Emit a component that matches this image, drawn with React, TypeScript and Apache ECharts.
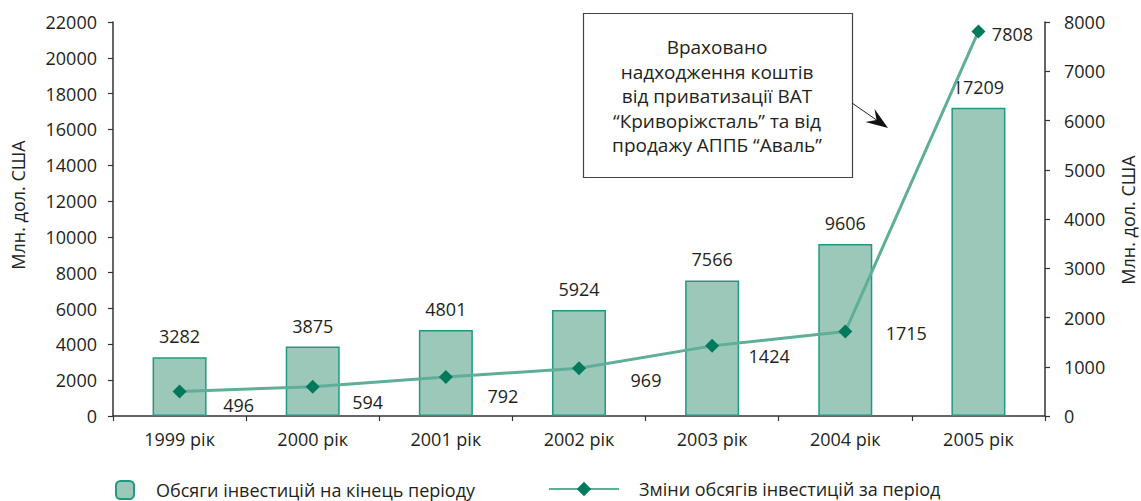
import React, { useEffect, useRef } from "react";
import * as echarts from "echarts";

const categories = ["1999 рік", "2000 рік", "2001 рік", "2002 рік", "2003 рік", "2004 рік", "2005 рік"];
const volumeEndOfPeriod = [3282, 3875, 4801, 5924, 7566, 9606, 17209];
const changeForPeriod = [496, 594, 792, 969, 1424, 1715, 7808];
const leftTicks = { min: 0, max: 22000, interval: 2000 };
const rightTicks = { min: 0, max: 8000, interval: 1000 };
const barName = "Обсяги інвестицій на кінець періоду";
const lineName = "Зміни обсягів інвестицій за період";
const axisName = "Млн. дол. США";
const noteLines = [
  "Враховано",
  "надходження коштів",
  "від приватизації ВАТ",
  "“Криворіжсталь” та від",
  "продажу АППБ “Аваль”",
];

const FONT = "'Open Sans', 'Noto Sans', sans-serif";
const TXT = "#231f20";
const lineLabelOffsets = [[59, 13], [55, 15], [57, 19], [67, 12], [57, 10], [61, 1], [34, 3]];

export default function App() {
  const ref = useRef<HTMLDivElement>(null);
  useEffect(() => {
    if (!ref.current) return;
    const chart = echarts.init(ref.current, null, { renderer: "svg" });
    const axisLine = { show: true, lineStyle: { color: "#333", width: 1.5 } };
    const tick = { show: true, length: 5, lineStyle: { color: "#333", width: 1.2 } };
    const plain = (v: number) => String(v);
    const tip = [888, 128];
    const dir = [0.82, 0.57];
    const perp = [-0.57, 0.82];
    const back = [tip[0] - dir[0] * 22, tip[1] - dir[1] * 22];
    const notch = [tip[0] - dir[0] * 14, tip[1] - dir[1] * 14];
    const w1 = [back[0] + perp[0] * 8, back[1] + perp[1] * 8];
    const w2 = [back[0] - perp[0] * 8, back[1] - perp[1] * 8];
    chart.setOption({
      animation: false,
      textStyle: { fontFamily: FONT },
      grid: { left: 113, right: 96, top: 22, bottom: 85, containLabel: false },
      legend: [
        {
          data: [barName],
          left: 115,
          top: 480,
          padding: 0,
          itemWidth: 18,
          itemHeight: 18,
          textStyle: { fontSize: 18, color: TXT, fontFamily: FONT, padding: [0, 0, 0, 17] },
        },
        {
          data: [lineName],
          left: 548,
          top: 480,
          padding: 0,
          itemWidth: 70,
          itemHeight: 18,
          textStyle: { fontSize: 18, color: TXT, fontFamily: FONT, padding: [0, 0, 0, 15] },
        },
      ],
      xAxis: {
        type: "category",
        data: categories,
        boundaryGap: true,
        axisLine,
        axisTick: tick,
        axisLabel: { fontSize: 18, color: TXT, margin: 14, fontFamily: FONT },
      },
      yAxis: [
        {
          type: "value",
          ...leftTicks,
          axisLine,
          axisTick: tick,
          axisLabel: { fontSize: 18, color: TXT, margin: 16, fontFamily: FONT, formatter: plain },
          splitLine: { show: false },
        },
        {
          type: "value",
          position: "right",
          ...rightTicks,
          axisLine,
          axisTick: tick,
          axisLabel: { fontSize: 18, color: TXT, margin: 19, fontFamily: FONT, formatter: plain },
          splitLine: { show: false },
        },
      ],
      series: [
        {
          name: barName,
          type: "bar",
          data: volumeEndOfPeriod,
          barWidth: 54,
          itemStyle: { color: "#9cc8b9", borderColor: "#1f9a80", borderWidth: 1.5 },
          label: { show: true, position: "top", distance: 12, fontSize: 18, color: TXT, fontFamily: FONT },
          z: 2,
        },
        {
          name: lineName,
          type: "line",
          yAxisIndex: 1,
          data: changeForPeriod.map((v, i) => ({
            value: v,
            label: { offset: lineLabelOffsets[i] },
          })),
          symbol: "diamond",
          symbolSize: 14,
          lineStyle: { color: "#5fae97", width: 3 },
          itemStyle: { color: "#007a5a" },
          label: { show: true, position: "inside", fontSize: 18, color: TXT, fontFamily: FONT },
          z: 3,
        },
      ],
      graphic: [
        {
          type: "text",
          x: 18,
          y: 205,
          rotation: Math.PI / 2,
          style: { text: axisName, fontSize: 18, fill: TXT, fontFamily: FONT, align: "center", verticalAlign: "middle" },
        },
        {
          type: "text",
          x: 1128,
          y: 220,
          rotation: Math.PI / 2,
          style: { text: axisName, fontSize: 18, fill: TXT, fontFamily: FONT, align: "center", verticalAlign: "middle" },
        },
        {
          type: "rect",
          shape: { x: 583.5, y: 13.5, width: 269, height: 164 },
          style: { fill: "#fff", stroke: "#444", lineWidth: 1.2 },
          z: 10,
        },
        {
          type: "text",
          x: 717,
          y: 96,
          z: 11,
          style: {
            text: noteLines.join("\n"),
            fontSize: 19,
            lineHeight: 24.5,
            fill: TXT,
            fontFamily: FONT,
            align: "center",
            verticalAlign: "middle",
          },
        },
        {
          type: "line",
          shape: { x1: 852, y1: 103, x2: notch[0], y2: notch[1] },
          style: { stroke: "#222", lineWidth: 1 },
          z: 10,
        },
        {
          type: "polygon",
          shape: { points: [tip, w1, notch, w2] },
          style: { fill: "#111" },
          z: 10,
        },
      ],
    });
    return () => chart.dispose();
  }, []);
  return (
    <div
      ref={ref}
      style={{ position: "fixed", left: 0, top: 0, width: 1141, height: 501, background: "#fff" }}
    />
  );
}
